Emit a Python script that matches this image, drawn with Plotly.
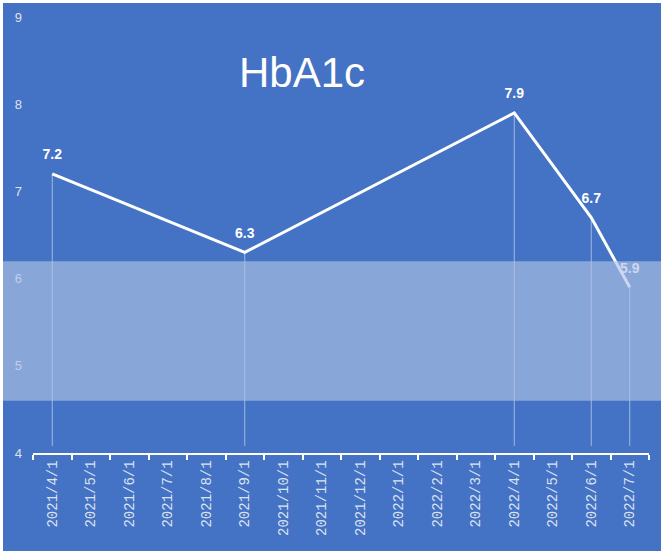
import plotly.graph_objects as go

categories = ["2021/4/1", "2021/5/1", "2021/6/1", "2021/7/1", "2021/8/1", "2021/9/1",
              "2021/10/1", "2021/11/1", "2021/12/1", "2022/1/1", "2022/2/1", "2022/3/1",
              "2022/4/1", "2022/5/1", "2022/6/1", "2022/7/1"]
point_dates = ["2021/4/1", "2021/9/1", "2022/4/1", "2022/6/1", "2022/7/1"]
hba1c = [7.2, 6.3, 7.9, 6.7, 5.9]
band_low, band_high = 4.6, 6.2
y_min, y_max = 4, 9
y_ticks = [4, 5, 6, 7, 8, 9]

BLUE = "#4472C4"
LABEL = "#DCE3F0"

fig = go.Figure()

# drop lines
dx, dy = [], []
for d, v in zip(point_dates, hba1c):
    dx += [d, d, None]
    dy += [y_min + 0.08, v, None]
fig.add_trace(go.Scatter(x=dx, y=dy, mode="lines",
                         line=dict(color="rgba(255,255,255,0.5)", width=1),
                         hoverinfo="skip", showlegend=False))

fig.add_trace(go.Scatter(
    x=point_dates, y=hba1c, mode="lines",
    line=dict(color="white", width=3),
    hoverinfo="x+y", showlegend=False))

# data labels (as a text trace so the band overlays the last one)
fig.add_trace(go.Scatter(
    x=point_dates, y=hba1c, mode="markers+text",
    marker=dict(size=16, color="rgba(0,0,0,0)"),
    text=[f"{v:.1f}" for v in hba1c], textposition="top center",
    textfont=dict(color="white", size=14, family="Liberation Sans", weight="bold"),
    hoverinfo="skip", showlegend=False))

# background panel with white border
fig.add_shape(type="rect", xref="paper", yref="paper",
              x0=-0.0487, x1=1.0195, y0=-0.2248, y1=1.032,
              fillcolor=BLUE, line=dict(width=0), layer="below")

# target band
fig.add_shape(type="rect", xref="paper", yref="y",
              x0=-0.0487, x1=1.0195, y0=band_low, y1=band_high,
              fillcolor="rgba(175,194,229,0.65)", line=dict(width=0), layer="above")

fig.add_annotation(text="HbA1c", xref="paper", yref="paper", x=0.437, y=0.872,
                   showarrow=False, xanchor="center", yanchor="middle",
                   font=dict(size=42, color="white", family="Liberation Sans"))

fig.update_layout(
    width=664, height=555,
    margin=dict(l=33, r=15, t=17, b=102),
    paper_bgcolor="white", plot_bgcolor="rgba(0,0,0,0)",
    xaxis=dict(type="category", categoryorder="array", categoryarray=categories,
               range=[-0.5, len(categories) - 0.5], tickson="boundaries",
               showgrid=False, zeroline=False, automargin=False,
               showline=True, linecolor="white", linewidth=1.5,
               ticks="outside", ticklen=5, tickcolor="white", tickwidth=1.5,
               tickangle=-90, tickfont=dict(color=LABEL, size=14, family="Liberation Mono")),
    yaxis=dict(range=[y_min, y_max], tickvals=y_ticks, showgrid=False, zeroline=False,
               showline=False, ticks="", ticklabelstandoff=10, automargin=False,
               tickfont=dict(color=LABEL, size=13, family="Liberation Sans")),
)

fig.write_html("out.html", config={"displayModeBar": False},
               post_script="document.body.style.margin='0';")
